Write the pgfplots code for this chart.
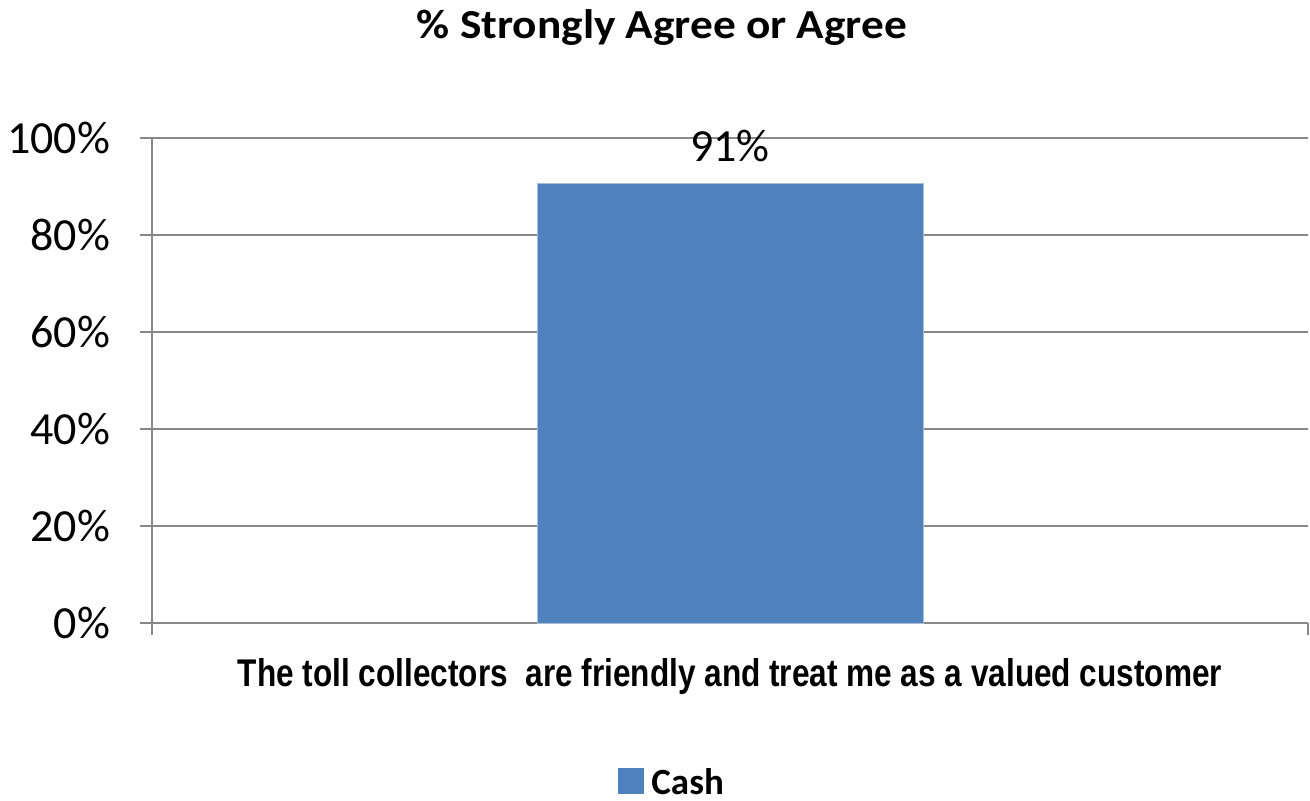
\documentclass[border=0pt]{standalone}
\usepackage{fontspec}
\setmainfont{Carlito}
\newfontfamily\lsans{Liberation Sans}
\usepackage{graphicx}
\usepackage{pgfplots}
\pgfplotsset{compat=1.18}
\definecolor{barblue}{HTML}{4F81BD}
\definecolor{gridgray}{HTML}{888888}
\begin{document}
\begin{tikzpicture}
\useasboundingbox (0,0) rectangle (655pt,400pt);
\begin{axis}[
  at={(76pt,88.5pt)}, anchor=south west,
  scale only axis, width=578pt, height=242.5pt,
  xmin=-0.5, xmax=0.5, ymin=0, ymax=100,
  axis x line*=bottom, axis y line*=left,
  axis line style={gridgray, line width=0.8pt},
  xtick={-0.5,0.5}, xticklabels={,},
  ytick={0,20,...,100},
  yticklabel={\pgfmathprintnumber{\tick}\%},
  /pgf/number format/assume math mode=true,
  tick align=outside, major tick length=6pt,
  tick style={gridgray, line width=0.8pt},
  ymajorgrids, grid style={gridgray, line width=0.8pt},
  yticklabel style={font=\fontsize{23}{27}\selectfont, anchor=east, xshift=-11.5pt},
  xlabel={\resizebox{492pt}{14pt}{\lsans\bfseries The toll collectors\ \ are friendly and treat me as a valued customer}},
  xlabel style={at={(axis description cs:0.5,-0.1299)}, anchor=base},
  legend style={at={(axis description cs:0.4031,-0.3691)}, anchor=south west, draw=none, inner sep=0pt, font=\bfseries\fontsize{18.5}{22}\selectfont},
  legend cell align=left,
  legend image code/.code={\fill[barblue] (0pt,-5pt) rectangle (12.5pt,7.5pt);},
  clip=false,
]
\addplot[ybar, bar width=193pt, fill=barblue, draw={rgb,255:red,170;green,190;blue,215}, line width=0.5pt,
  nodes near coords={\pgfmathprintnumber[fixed,precision=0]{\pgfplotspointmeta}\%},
  nodes near coords style={font=\fontsize{23}{27}\selectfont, anchor=base, yshift=11pt, text=black}]
  coordinates {(0,90.7)};
\addlegendentry{\hspace{1.5pt}Cash}
\end{axis}
\node[anchor=base, inner sep=0pt] at (331pt,380.5pt)
  {\scalebox{1.10}[1]{\fontsize{20.6}{24}\selectfont\bfseries \% Strongly Agree or Agree}};
\end{tikzpicture}
\end{document}
